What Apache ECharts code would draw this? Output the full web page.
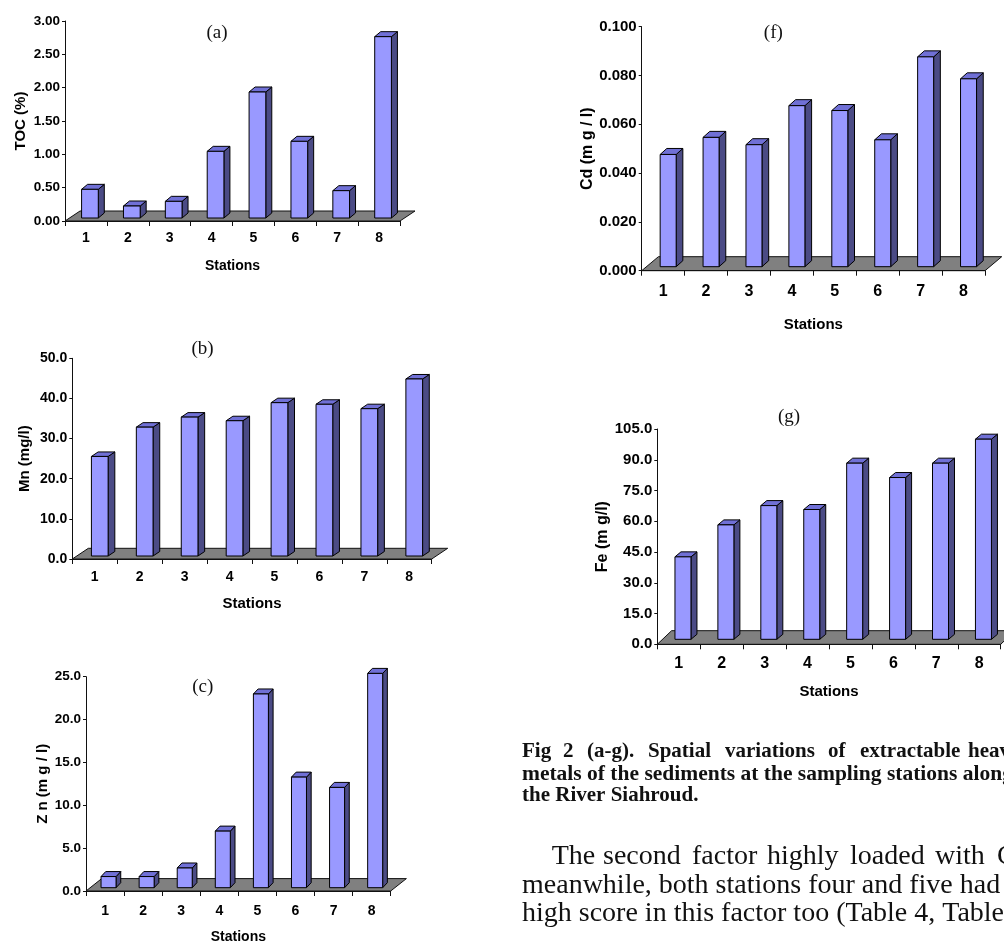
<!DOCTYPE html>
<html><head><meta charset="utf-8">
<script src="https://cdn.jsdelivr.net/npm/echarts@6/dist/echarts.min.js"></script>
<style>html,body{margin:0;padding:0;background:#fff;overflow:hidden}#c{width:1004px;height:945px}</style>
</head><body><div id="c"></div><script>
// ---------------- data ----------------
const stations = ['1', '2', '3', '4', '5', '6', '7', '8'];
const tocValues = [0.43, 0.18, 0.25, 1.00, 1.89, 1.15, 0.41, 2.72];
const mnValues  = [24.8, 32.1, 34.6, 33.7, 38.2, 37.8, 36.7, 44.1];
const znValues  = [1.3, 1.3, 2.3, 6.6, 22.6, 12.9, 11.7, 25.0];
const cdValues  = [0.046, 0.053, 0.050, 0.066, 0.064, 0.052, 0.086, 0.077];
const feValues  = [40.2, 55.8, 65.2, 63.3, 85.9, 78.9, 85.9, 97.6];
// value-axis ticks: [min, max, interval, decimals]
const tocTicks = [0, 3, 0.5, 2];
const mnTicks  = [0, 50, 10, 1];
const znTicks  = [0, 25, 5, 1];
const cdTicks  = [0, 0.1, 0.02, 3];
const feTicks  = [0, 105, 15, 1];
const xTitle = 'Stations';
const yTitles = ['TOC (%)', 'Mn (mg/l)', 'Z n (m g / l)', 'Cd (m g / l)', 'Fe (m g/l)'];
const panelTags = ['(a)', '(b)', '(c)', '(f)', '(g)'];
const captionLine1 = ['Fig', '2', '(a-g).', 'Spatial', 'variations', 'of', 'extractable', 'heavy'];
const captionLine2 = 'metals of the sediments at the sampling stations along';
const captionLine3 = 'the River Siahroud.';
const paraLine1 = ['The', 'second', 'factor', 'highly', 'loaded', 'with', 'Cd;'];
const paraLine2 = 'meanwhile, both stations four and five had';
const paraLine3 = 'high score in this factor too (Table 4, Table 5).';

// ---------------- layout / style ----------------
const SANS = '"Liberation Sans Narrow","Arial Narrow","Liberation Sans",Arial,sans-serif';
const SERIF = '"Liberation Serif","Times New Roman",serif';
const FRONT = '#9999FF', SIDE = '#4B4B85', TOPC = '#7070D6', FLOOR = '#808080';

const panels = [
  {values: tocValues, ticks: tocTicks, grid: [65, 21, 335, 200], tick: 13.5, cat: 14, catM: 10, st: 14, stGap: 38, yn: 15, ynGap: 37,
   tag: [217, 33], off: [4, -3], w: 16.7, side: [6, -5], floor: [15, -10]},
  {values: mnValues, ticks: mnTicks, grid: [72.3, 358.3, 359.4, 200.7], tick: 14, cat: 14, catM: 10.7, st: 15, stGap: 37.5, yn: 15, ynGap: 40,
   tag: [202.5, 349], off: [5, -3], w: 16.7, side: [6.7, -4.5], floor: [16, -10.7]},
  {values: znValues, ticks: znTicks, grid: [86, 676.7, 304.7, 215], tick: 13.5, cat: 14, catM: 13, st: 14, stGap: 39, yn: 15, ynGap: 31.5,
   tag: [202.7, 686.7], off: [3.5, -3.3], w: 15, side: [4.7, -5], floor: [15.7, -12.4]},
  {values: cdValues, ticks: cdTicks, grid: [641.7, 26.7, 343.3, 244], tick: 15, cat: 16, catM: 13, st: 15, stGap: 46.5, yn: 16, ynGap: 43.7,
   tag: [773.3, 33.3], off: [5, -4], w: 16, side: [6.7, -6], floor: [16.7, -14]},
  {values: feValues, ticks: feTicks, grid: [657.3, 429, 343.4, 215.3], tick: 15, cat: 16, catM: 11, st: 15, stGap: 40, yn: 16, ynGap: 45.8,
   tag: [789, 416.7], off: [4.2, -5], w: 16, side: [6, -5], floor: [14.3, -13.6]}
];

function floorRender(fl) {
  return function (params, api) {
    const c = params.coordSys;
    const by = c.y + c.height;
    return {type: 'polygon', shape: {points: [[c.x, by], [c.x + c.width, by], [c.x + c.width + fl[0], by + fl[1]], [c.x + fl[0], by + fl[1]]]},
      style: {fill: FLOOR, stroke: '#111', lineWidth: 1}};
  };
}
function barRender(p) {
  return function (params, api) {
    const j = api.value(0), v = api.value(1);
    const t = api.coord([j, v]), b = api.coord([j, 0]);
    const cx = t[0] + p.off[0], yT = t[1] + p.off[1], yB = b[1] + p.off[1];
    const L = cx - p.w / 2, R = cx + p.w / 2, dx = p.side[0], dy = p.side[1];
    return {type: 'group', children: [
      {type: 'polygon', shape: {points: [[R, yT], [R + dx, yT + dy], [R + dx, yB + dy], [R, yB]]}, style: {fill: SIDE, stroke: '#000', lineWidth: 1}},
      {type: 'polygon', shape: {points: [[L, yT], [L + dx, yT + dy], [R + dx, yT + dy], [R, yT]]}, style: {fill: TOPC, stroke: '#000', lineWidth: 1}},
      {type: 'rect', shape: {x: L, y: yT, width: p.w, height: yB - yT}, style: {fill: FRONT, stroke: '#000', lineWidth: 1}}
    ]};
  };
}

const option = {animation: false, backgroundColor: '#fff', grid: [], xAxis: [], yAxis: [], series: [], graphic: []};
panels.forEach((p, i) => {
  option.grid.push({left: p.grid[0], top: p.grid[1], width: p.grid[2], height: p.grid[3]});
  option.xAxis.push({
    type: 'category', gridIndex: i, data: stations, boundaryGap: true, z: 5,
    axisLine: {show: true, lineStyle: {color: '#111', width: 1}},
    axisTick: {show: true, length: 5, lineStyle: {color: '#111'}},
    axisLabel: {margin: p.catM, fontSize: p.cat, fontWeight: 'bold', fontFamily: SANS, color: '#000'},
    name: xTitle, nameLocation: 'middle', nameGap: p.stGap,
    nameTextStyle: {fontSize: p.st, fontWeight: 'bold', fontFamily: SANS, color: '#000'}
  });
  const tk = p.ticks;
  option.yAxis.push({
    type: 'value', gridIndex: i, min: tk[0], max: tk[1], interval: tk[2], z: 5,
    splitLine: {show: false},
    axisLine: {show: true, lineStyle: {color: '#111', width: 1}},
    axisTick: {show: true, length: 3, lineStyle: {color: '#111'}},
    axisLabel: {margin: 5, fontSize: p.tick, fontWeight: 'bold', fontFamily: SANS, color: '#000',
      formatter: v => v.toFixed(tk[3])},
    name: yTitles[i], nameLocation: 'middle', nameRotate: 90, nameGap: p.ynGap,
    nameTextStyle: {fontSize: p.yn, fontWeight: 'bold', fontFamily: SANS, color: '#000'}
  });
  option.series.push({type: 'custom', xAxisIndex: i, yAxisIndex: i, z: 1, silent: true, data: [[0, 0]], renderItem: floorRender(p.floor)});
  option.series.push({type: 'custom', xAxisIndex: i, yAxisIndex: i, z: 2, data: p.values.map((v, j) => [j, v]), renderItem: barRender(p)});
  option.graphic.push({type: 'text', x: p.tag[0], y: p.tag[1], style: {text: panelTags[i], font: '19px ' + SERIF, fill: '#111', align: 'center', verticalAlign: 'middle'}});
});

// caption and body text
function textAt(str, x, baseline, size, bold) {
  return {type: 'text', x: x, y: baseline - 0.34 * size,
    style: {text: str, font: (bold ? 'bold ' : '') + size + 'px ' + SERIF, fill: '#111', align: 'left', verticalAlign: 'middle'}};
}
const cap1X = [522, 563, 587, 648, 725, 828, 860, 968];
captionLine1.forEach((w, k) => option.graphic.push(textAt(w, cap1X[k], 759, 21, true)));
option.graphic.push(textAt(captionLine2, 522, 781.5, 21.5, true));
option.graphic.push(textAt(captionLine3, 522, 803, 21, true));
const para1X = [551.7, 603, 692, 767, 850, 935, 997];
paraLine1.forEach((w, k) => option.graphic.push(textAt(w, para1X[k], 866, 28, false)));
option.graphic.push(textAt(paraLine2, 522, 895, 28, false));
option.graphic.push(textAt(paraLine3, 522, 923, 28, false));

echarts.init(document.getElementById('c'), null, {renderer: 'canvas'}).setOption(option);
</script></body></html>
